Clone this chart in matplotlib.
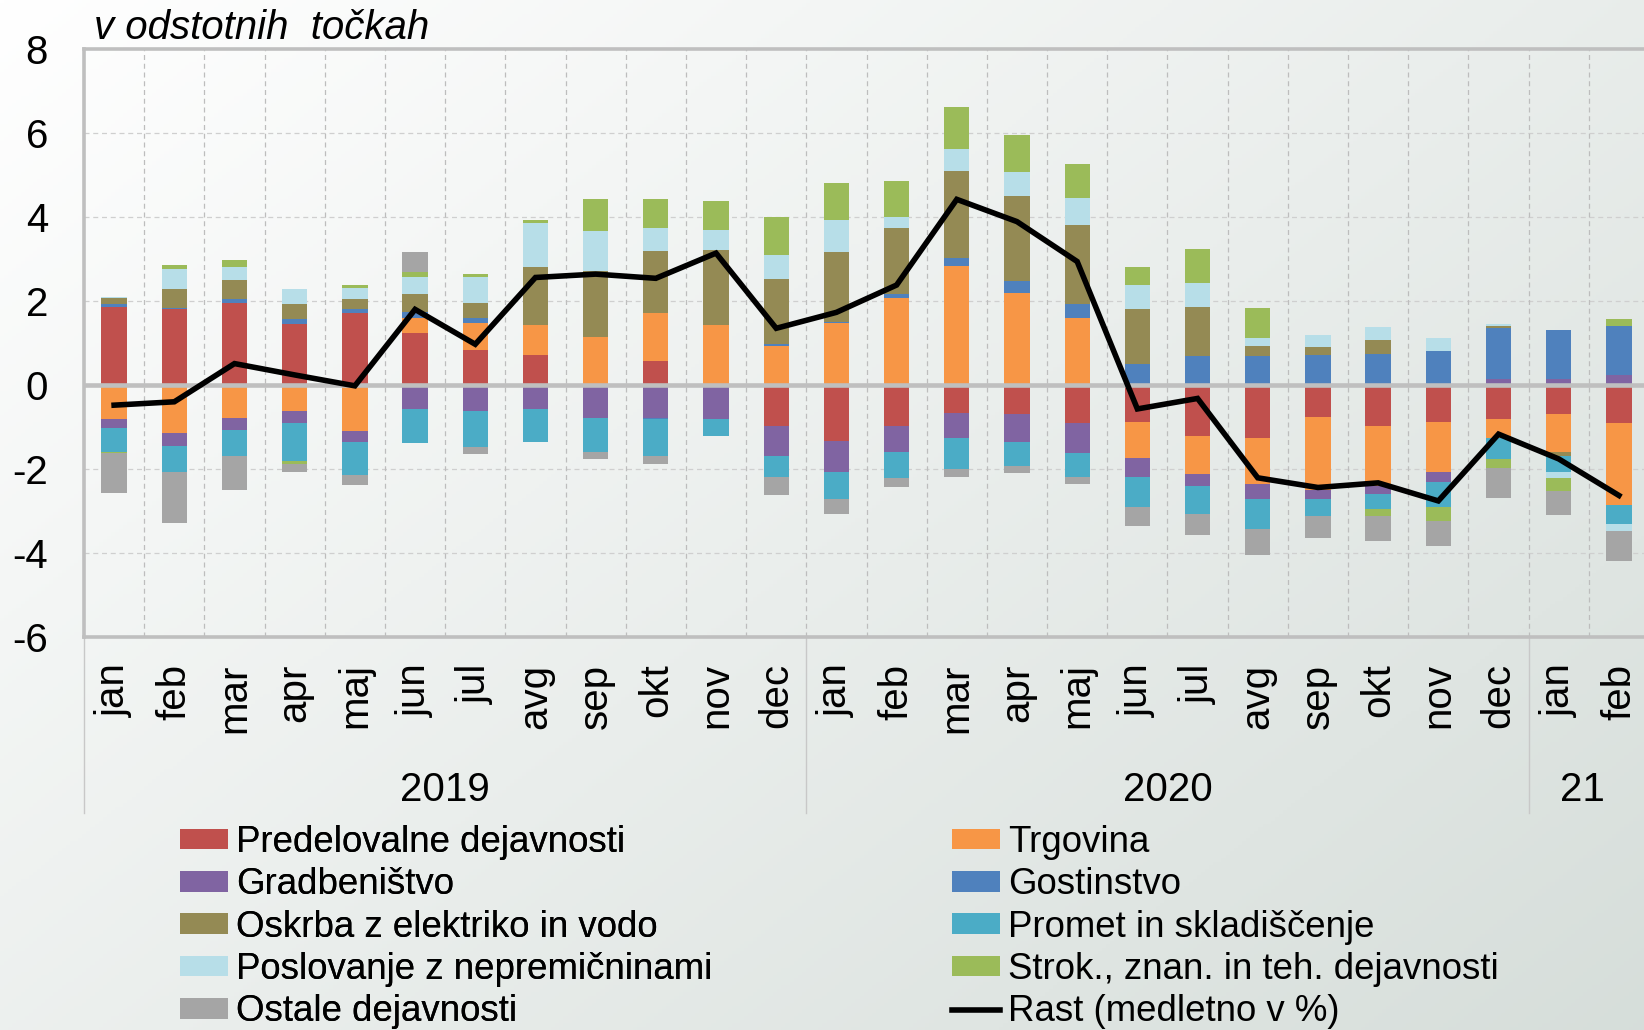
import numpy as np
import matplotlib
matplotlib.use('Agg')
import matplotlib.pyplot as plt
from matplotlib.patches import Patch
from matplotlib.lines import Line2D
import matplotlib.transforms as mtransforms

plt.rcParams['font.family'] = ['Liberation Sans', 'DejaVu Sans']

months = ['jan', 'feb', 'mar', 'apr', 'maj', 'jun', 'jul', 'avg', 'sep', 'okt', 'nov', 'dec',
          'jan', 'feb', 'mar', 'apr', 'maj', 'jun', 'jul', 'avg', 'sep', 'okt', 'nov', 'dec',
          'jan', 'feb']
years = ['2019', '2020', '21']
year_start = [0, 12, 24]
year_end = [12, 24, 26]

predelovalne = [1.85, 1.81, 1.96, 1.45, 1.71, 1.23, 0.84, 0.72, 0.0, 0.57, -0.05, -0.97,
                -1.33, -0.97, -0.67, -0.69, -0.91, -0.87, -1.21, -1.27, -0.76, -0.97, -0.87, -0.82,
                -0.70, -0.91]
trgovina = [-0.82, -1.15, -0.79, -0.63, -1.09, 0.36, 0.63, 0.72, 1.15, 1.15, 1.44, 0.93,
            1.47, 2.08, 2.83, 2.20, 1.60, -0.87, -0.91, -1.08, -1.74, -1.43, -1.21, -0.43,
            -0.90, -1.94]
gradbenistvo = [-0.21, -0.30, -0.29, -0.27, -0.27, -0.58, -0.63, -0.58, -0.78, -0.79, -0.77, -0.73,
                -0.75, -0.63, -0.60, -0.67, -0.72, -0.45, -0.29, -0.37, -0.21, -0.19, -0.22, 0.14,
                0.14, 0.24]
gostinstvo = [0.08, 0.03, 0.09, 0.11, 0.10, 0.14, 0.12, 0.0, 0.0, -0.03, 0.0, 0.04,
              0.04, 0.09, 0.20, 0.27, 0.33, 0.51, 0.69, 0.69, 0.72, 0.75, 0.82, 1.22,
              1.18, 1.17]
oskrba = [0.15, 0.45, 0.45, 0.37, 0.24, 0.43, 0.37, 1.36, 1.56, 1.47, 1.78, 1.56,
          1.66, 1.56, 2.06, 2.02, 1.87, 1.30, 1.17, 0.25, 0.18, 0.33, 0.0, 0.05,
          -0.08, 0.0]
promet = [-0.57, -0.63, -0.60, -0.92, -0.79, -0.81, -0.85, -0.77, -0.82, -0.86, -0.40, -0.48,
          -0.63, -0.61, -0.72, -0.56, -0.56, -0.72, -0.67, -0.70, -0.40, -0.37, -0.60, -0.50,
          -0.40, -0.46]
poslovanje = [0.02, 0.48, 0.30, 0.36, 0.27, 0.40, 0.60, 1.06, 0.95, 0.56, 0.48, 0.57,
              0.75, 0.27, 0.52, 0.57, 0.66, 0.56, 0.57, 0.17, 0.29, 0.30, 0.29, 0.05,
              -0.13, -0.17]
strok = [-0.03, 0.08, 0.17, -0.05, 0.06, 0.12, 0.08, 0.06, 0.76, 0.68, 0.67, 0.89,
         0.90, 0.85, 1.02, 0.90, 0.81, 0.45, 0.82, 0.73, -0.02, -0.15, -0.33, -0.22,
         -0.32, 0.15]
ostale = [-0.94, -1.20, -0.81, -0.21, -0.24, 0.48, -0.17, 0.0, -0.17, -0.20, 0.0, -0.44,
          -0.36, -0.23, -0.21, -0.17, -0.16, -0.45, -0.48, -0.62, -0.52, -0.60, -0.60, -0.71,
          -0.56, -0.71]
rast = [-0.48, -0.40, 0.51, 0.24, -0.02, 1.80, 0.97, 2.56, 2.64, 2.54, 3.14, 1.35,
        1.73, 2.38, 4.42, 3.89, 2.94, -0.57, -0.32, -2.21, -2.44, -2.33, -2.76, -1.17,
        -1.76, -2.63]

series = [
    ('Predelovalne dejavnosti', predelovalne, '#c0504d'),
    ('Trgovina', trgovina, '#f79646'),
    ('Gradbeništvo', gradbenistvo, '#8064a2'),
    ('Gostinstvo', gostinstvo, '#4f81bd'),
    ('Oskrba z elektriko in vodo', oskrba, '#948a54'),
    ('Promet in skladiščenje', promet, '#4bacc6'),
    ('Poslovanje z nepremičninami', poslovanje, '#b7dee8'),
    ('Strok., znan. in teh. dejavnosti', strok, '#9bbb59'),
    ('Ostale dejavnosti', ostale, '#a5a5a5'),
]

fig = plt.figure(figsize=(16.44, 10.30), dpi=100)

# soft diagonal background
bg = fig.add_axes([0, 0, 1, 1], zorder=-10)
gx, gy = np.meshgrid(np.linspace(0, 1, 400), np.linspace(0, 1, 300))
t = np.clip(0.55 * gx + 0.45 * gy, 0, 1)[..., None]
c0 = np.array([1.0, 1.0, 1.0])
c1 = np.array([0.84, 0.87, 0.855])
bg.imshow(c0 + (c1 - c0) * t, aspect='auto', extent=[0, 1, 0, 1], origin='upper')
bg.axis('off')

ax = fig.add_axes([84 / 1644, 1 - 637 / 1030, 1565 / 1644, 588 / 1030])
ax.set_facecolor('none')

x = np.arange(len(months))
pos_base = np.zeros(len(x))
neg_base = np.zeros(len(x))
for name, vals, col in series:
    v = np.array(vals)
    pos = np.where(v > 0, v, 0)
    neg = np.where(v < 0, v, 0)
    ax.bar(x, pos, 0.42, bottom=pos_base, color=col, linewidth=0, zorder=3)
    ax.bar(x, neg, 0.42, bottom=neg_base, color=col, linewidth=0, zorder=3)
    pos_base += pos
    neg_base += neg

ax.axhline(0, color='#bfbfbf', lw=3.3, zorder=4)
ax.plot(x, rast, color='black', lw=4.0, zorder=5, solid_joinstyle='miter')

ax.set_xlim(-0.5, len(months) - 0.5)
ax.set_ylim(-6, 8)
ax.set_yticks(np.arange(-6, 9, 2))
ax.set_yticklabels([str(v) for v in range(-6, 9, 2)])
ax.set_xticks(x)
ax.set_xticklabels(months, rotation=90)
ax.tick_params(axis='y', length=0, pad=26, labelsize=29)
ax.tick_params(axis='x', length=0, pad=19, labelsize=29)

for yv in [-4, -2, 2, 4, 6]:
    ax.axhline(yv, color='#cfcfcf', lw=0.9, ls=(0, (4, 3)), zorder=1)
for xv in np.arange(0.5, len(months) - 1, 1):
    ax.axvline(xv, color='#bdbdbd', lw=0.9, ls=(0, (4, 3)), zorder=1)

for side in ['left', 'top', 'bottom']:
    ax.spines[side].set_color('#bfbfbf')
    ax.spines[side].set_linewidth(2.6)
ax.spines['right'].set_visible(False)

# year labels and separators
trans = mtransforms.blended_transform_factory(ax.transData, fig.transFigure)
year_pos = [5.5, 17.5, 24.4]
for yr, xp in zip(years, year_pos):
    ax.text(xp, 1 - 790 / 1030, yr, transform=trans, ha='center', va='center',
            fontsize=29, clip_on=False)
for s in year_start:
    ax.plot([s - 0.5, s - 0.5], [1 - 637 / 1030, 1 - 813 / 1030], transform=trans,
            color='#c8c8c8', lw=1.0, clip_on=False)

fig.text(94 / 1644, 1 - 28 / 1030, 'v odstotnih  točkah', style='italic', fontsize=29,
         ha='left', va='center')

handles = [Patch(facecolor=col, edgecolor='none') for _, _, col in series]
labels = [name for name, _, _ in series]
handles.append(Line2D([0], [0], color='black', lw=4.0))
labels.append('Rast (medletno v %)')

kw = dict(frameon=False, fontsize=26.4, handlelength=1.3, handleheight=0.5, handletextpad=0.22,
          labelspacing=0.2, borderpad=0, borderaxespad=0, loc='upper left')
col1 = [0, 2, 4, 6, 8]
col2 = [1, 3, 5, 7, 9]
leg1 = fig.legend([handles[i] for i in col1], [labels[i] for i in col1],
                  bbox_to_anchor=(180 / 1644, 1 - 825 / 1030), **kw)
fig.add_artist(leg1)
fig.legend([handles[i] for i in col2], [labels[i] for i in col2],
           bbox_to_anchor=(952 / 1644, 1 - 825 / 1030), **kw)

fig.savefig('out.png', dpi=100)
